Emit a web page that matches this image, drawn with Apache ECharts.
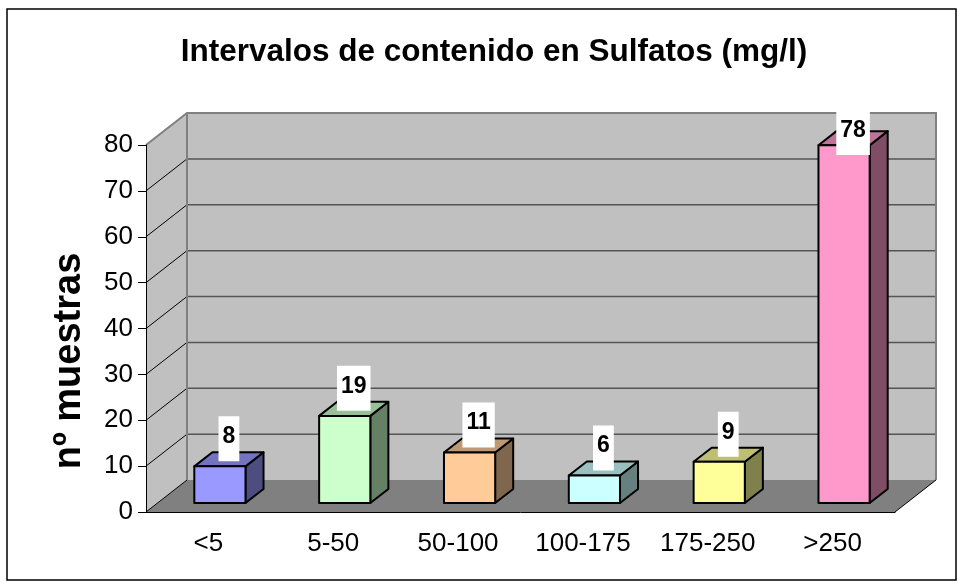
<!DOCTYPE html>
<html>
<head>
<meta charset="utf-8">
<script src="https://cdn.jsdelivr.net/npm/echarts@6/dist/echarts.min.js"></script>
<style>
html, body { margin: 0; padding: 0; background: #fff; }
#chart { width: 960px; height: 586px; }
</style>
</head>
<body>
<div id="chart"></div>
<script>
// grafico de barras 3D (estilo Excel) de sulfatos
var categories = ['<5', '5-50', '50-100', '100-175', '175-250', '>250'];
var values = [8, 19, 11, 6, 9, 78];
var barColors = ['#9999ff', '#ccffcc', '#ffcc99', '#ccffff', '#ffff99', '#ff99cc'];
var yTicks = [0, 10, 20, 30, 40, 50, 60, 70, 80];

var FONT = '"Liberation Sans", Arial, sans-serif';
var DX = 41, DY = -32; // desplazamiento del fondo (profundidad)

// oscurecer un color
function shade(hex, f) {
    var n = parseInt(hex.slice(1), 16);
    var r = Math.round(((n >> 16) & 255) * f);
    var g = Math.round(((n >> 8) & 255) * f);
    var b = Math.round((n & 255) * f);
    return 'rgb(' + r + ',' + g + ',' + b + ')';
}

// paredes, suelo y lineas de division
function renderWalls(params, api) {
    var w = api.size([1, 0])[0];
    var left = api.coord([0, 0])[0] - w / 2;
    var right = api.coord([categories.length - 1, 0])[0] + w / 2;
    var y0 = api.coord([0, 0])[1];
    var yTop = api.coord([0, yTicks[yTicks.length - 1]])[1];
    var ch = [];
    ch.push({ type: 'rect', shape: { x: left + DX, y: yTop + DY, width: right - left, height: y0 - yTop }, style: { fill: '#c0c0c0' } });
    ch.push({ type: 'polygon', shape: { points: [[left, y0], [left, yTop], [left + DX, yTop + DY], [left + DX, y0 + DY]] }, style: { fill: '#c0c0c0' } });
    ch.push({ type: 'polygon', shape: { points: [[left, y0], [right, y0], [right + DX, y0 + DY], [left + DX, y0 + DY]] }, style: { fill: '#808080' } });
    for (var k = 0; k < yTicks.length - 1; k++) {
        var y = api.coord([0, yTicks[k]])[1];
        if (k > 0) {
            ch.push({ type: 'line', shape: { x1: left + DX, y1: y + DY, x2: right + DX, y2: y + DY }, style: { stroke: '#555', lineWidth: 1.5 } });
        }
        ch.push({ type: 'line', shape: { x1: left, y1: y, x2: left + DX, y2: y + DY }, style: { stroke: '#000', lineWidth: 1 } });
    }
    // bordes grises
    ch.push({ type: 'polyline', shape: { points: [[left, yTop], [left + DX, yTop + DY], [right + DX, yTop + DY], [right + DX, y0 + DY]] }, style: { stroke: '#808080', lineWidth: 2, fill: null } });
    ch.push({ type: 'line', shape: { x1: left + DX, y1: yTop + DY, x2: left + DX, y2: y0 + DY }, style: { stroke: '#808080', lineWidth: 2 } });
    ch.push({ type: 'line', shape: { x1: right, y1: y0, x2: right + DX, y2: y0 + DY }, style: { stroke: '#000', lineWidth: 1 } });
    return { type: 'group', children: ch };
}

// cada barra: cara frontal, lateral y superior + etiqueta
function renderBar(params, api) {
    var i = api.value(0), v = api.value(1);
    var w = api.size([1, 0])[0];
    var cx = api.coord([i, 0])[0];
    var base = api.coord([i, 0])[1];
    var top = api.coord([i, v])[1];
    var wallTop = api.coord([0, yTicks[yTicks.length - 1]])[1] + DY;
    var bw = w * 0.41;
    var f0 = 0.28, f1 = 0.72;
    var x0 = cx - bw / 2 + DX * f0, x1 = cx + bw / 2 + DX * f0;
    var yb = base + DY * f0, yt = top + DY * f0;
    var ox = DX * (f1 - f0), oy = DY * (f1 - f0);
    var c = barColors[params.dataIndex];
    var line = { stroke: '#000', lineWidth: 2, lineJoin: 'round' };
    var midTop = top + DY * 0.5;
    var boxH = 45;
    var ly = Math.max(midTop + 2 - boxH, wallTop - 3);
    return {
        type: 'group',
        children: [
            { type: 'polygon', shape: { points: [[x1, yt], [x1 + ox, yt + oy], [x1 + ox, yb + oy], [x1, yb]] }, style: Object.assign({ fill: shade(c, 0.5) }, line) },
            { type: 'polygon', shape: { points: [[x0, yt], [x1, yt], [x1 + ox, yt + oy], [x0 + ox, yt + oy]] }, style: Object.assign({ fill: shade(c, 0.75) }, line) },
            { type: 'rect', shape: { x: x0, y: yt, width: x1 - x0, height: yb - yt }, style: Object.assign({ fill: c }, line) },
            {
                type: 'text', x: cx + DX * 0.5, y: ly,
                style: {
                    text: String(v), fill: '#000', fontSize: 23, fontWeight: 'bold', fontFamily: FONT,
                    align: 'center', verticalAlign: 'top', lineHeight: 23,
                    backgroundColor: '#fff', padding: [9, 4, 13, 4]
                }
            }
        ]
    };
}

var chart = echarts.init(document.getElementById('chart'));
chart.setOption({
    backgroundColor: '#fff',
    animation: false,
    title: {
        text: 'Intervalos de contenido en Sulfatos (mg/l)',
        left: 489, top: 31, textAlign: 'center',
        textStyle: { fontSize: 31.5, fontWeight: 'bold', color: '#000', fontFamily: FONT }
    },
    graphic: [
        { type: 'rect', shape: { x: 7, y: 9, width: 949, height: 571 }, style: { fill: null, stroke: '#000', lineWidth: 1.5 }, z: -1 },
        {
            type: 'text', x: 70, y: 361, rotation: Math.PI / 2,
            style: { text: 'nº muestras', fontSize: 38, fontWeight: 'bold', fontFamily: FONT, fill: '#000', align: 'center', verticalAlign: 'middle' }
        }
    ],
    grid: { left: 146, right: 65, top: 145, bottom: 74 },
    xAxis: {
        type: 'category', data: categories, boundaryGap: true, z: 10,
        axisLine: { lineStyle: { color: '#000', width: 1 } },
        axisTick: { length: 6, lineStyle: { color: '#000' } },
        axisLabel: { interval: 0, hideOverlap: false, fontSize: 26, color: '#000', margin: 19, fontFamily: FONT }
    },
    yAxis: {
        type: 'value', min: 0, max: 80, interval: 10, z: 10,
        axisLine: { show: true, lineStyle: { color: '#000', width: 1 } },
        axisTick: { show: true, length: 8, lineStyle: { color: '#000' } },
        axisLabel: { fontSize: 26, color: '#000', margin: 13, fontFamily: FONT },
        splitLine: { show: false }
    },
    series: [
        { type: 'custom', renderItem: renderWalls, data: [[0, 0]], z: 1, silent: true },
        {
            type: 'custom', renderItem: renderBar, z: 3,
            data: values.map(function (v, i) { return [i, v]; })
        }
    ]
});
</script>
</body>
</html>
